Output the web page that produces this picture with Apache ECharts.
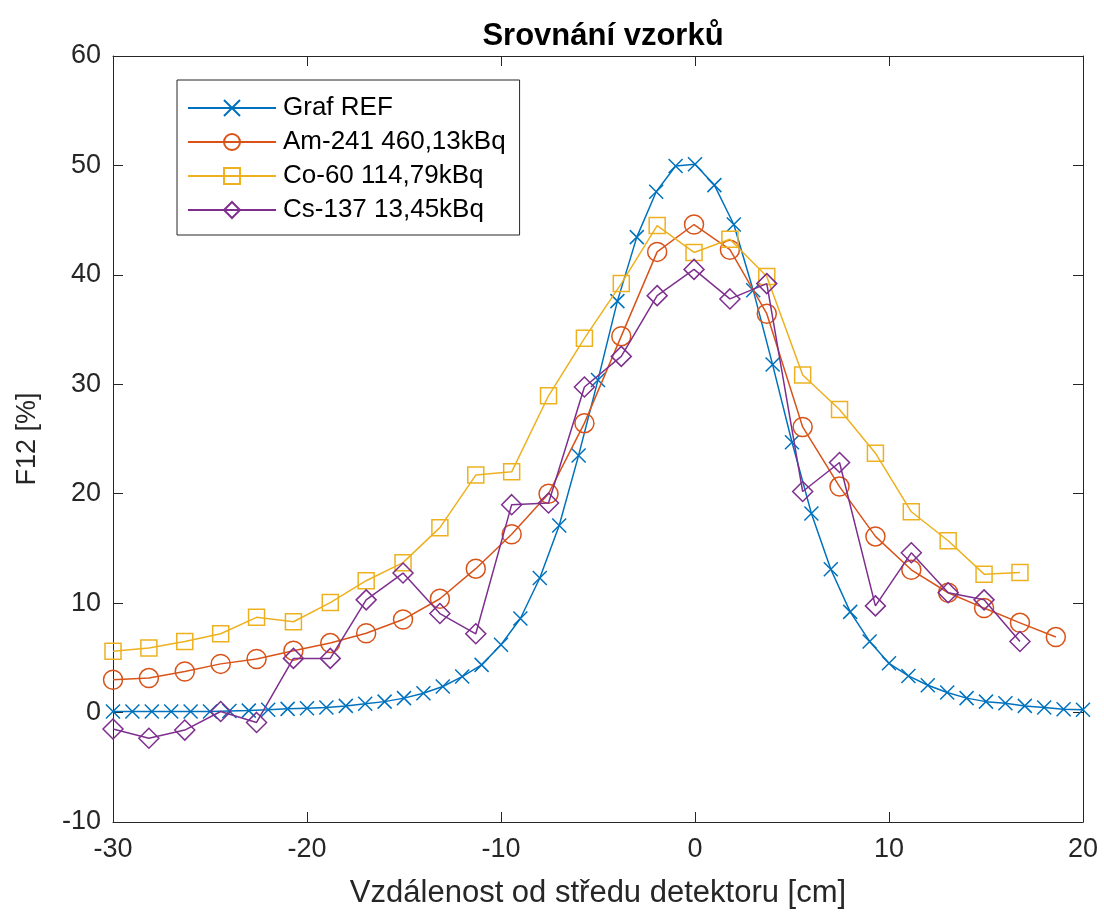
<!DOCTYPE html>
<html>
<head>
<meta charset="utf-8">
<title>Srovnání vzorků</title>
<script src="https://cdn.jsdelivr.net/npm/echarts@6/dist/echarts.min.js"></script>
<style>
  html, body { margin: 0; padding: 0; background: #fff; }
  #chart { width: 1104px; height: 915px; }
</style>
</head>
<body>
<div id="chart"></div>
<script>
// data
const seriesNames = ["Graf REF", "Am-241 460,13kBq", "Co-60 114,79kBq", "Cs-137 13,45kBq"];

const refX = [-30, -29, -28, -27, -26, -25, -24, -23, -22, -21, -20, -19, -18, -17, -16, -15, -14, -13, -12, -11,
  -10, -9, -8, -7, -6, -5, -4, -3, -2, -1, 0, 1, 2, 3, 4, 5, 6, 7, 8, 9,
  10, 11, 12, 13, 14, 15, 16, 17, 18, 19, 20];
const refY = [0.1, 0.1, 0.1, 0.1, 0.1, 0.1, 0.15, 0.18, 0.25, 0.34, 0.4, 0.46, 0.61, 0.8, 1.0, 1.32, 1.77, 2.38, 3.29, 4.36,
  6.2, 8.6, 12.3, 17.1, 23.5, 30.4, 37.6, 43.45, 47.6, 49.95, 50.1, 48.2, 44.6, 38.6, 31.8, 24.7, 18.2, 13.1, 9.2, 6.5,
  4.5, 3.35, 2.5, 1.83, 1.32, 1.0, 0.86, 0.61, 0.46, 0.31, 0.25];

// measured samples (about every 1.87 cm)
const sampleX = [-30, -28.15, -26.3, -24.45, -22.6, -20.7, -18.8, -16.95, -15.05, -13.15, -11.3, -9.45, -7.55,
  -5.7, -3.8, -1.95, -0.05, 1.8, 3.7, 5.55, 7.45, 9.3, 11.15, 13.05, 14.9, 16.75, 18.6];
const amY = [3.0, 3.15, 3.75, 4.45, 4.9, 5.65, 6.35, 7.25, 8.5, 10.4, 13.15, 16.3, 20.0,
  26.45, 34.4, 42.1, 44.6, 42.3, 36.45, 26.1, 20.65, 16.1, 13.05, 10.95, 9.55, 8.2, 6.9];
const coY = [5.6, 5.9, 6.5, 7.2, 8.7, 8.3, 10.05, 12.05, 13.7, 16.9, 21.7, 22.0, 28.95,
  34.2, 39.2, 44.5, 42.05, 43.25, 39.85, 30.85, 27.7, 23.7, 18.35, 15.7, 12.65, 12.8];
const csY = [-1.5, -2.35, -1.6, 0.1, -0.9, 4.95, 4.95, 10.3, 12.75, 9.05, 7.2, 19.0, 19.15,
  29.75, 32.55, 38.1, 40.5, 37.8, 39.2, 20.2, 22.85, 9.75, 14.6, 10.95, 10.3, 6.5];

const xTicks = [-30, -20, -10, 0, 10, 20];
const yTicks = [-10, 0, 10, 20, 30, 40, 50, 60];

const colors = ["#0072BD", "#D95319", "#EDB120", "#7E2F8E"];
const axisColor = "#262626";
const fontFamily = "Liberation Sans, Arial, sans-serif";

function pairs(xs, ys) {
  const out = [];
  for (let i = 0; i < ys.length; i++) {
    out.push([xs[i], ys[i]]);
  }
  return out;
}

function lineSeries(i, data, symbol, size) {
  return {
    name: seriesNames[i],
    type: "line",
    data: data,
    symbol: symbol,
    symbolSize: size,
    showAllSymbol: true,
    lineStyle: { color: colors[i], width: 1.5 },
    itemStyle: { color: "rgba(255,255,255,0)", borderColor: colors[i], borderWidth: 1.5 },
    emphasis: { disabled: true },
    animation: false,
    z: 2 + i
  };
}

const boxAxis = {
  axisLine: { show: true, onZero: false, lineStyle: { color: axisColor, width: 1 } },
  axisTick: { show: true, inside: true, length: 10, lineStyle: { color: axisColor } },
  splitLine: { show: false }
};

const chart = echarts.init(document.getElementById("chart"), null, { renderer: "canvas" });

const option = {
  backgroundColor: "#fff",
  title: {
    text: "Srovnání vzorků",
    left: 598,
    textAlign: "center",
    top: 16,
    textStyle: { fontFamily: fontFamily, fontSize: 31, fontWeight: "bold", color: "#000" }
  },
  grid: { left: 113, right: 21, top: 56, bottom: 93 },
  legend: {
    orient: "vertical",
    left: 177,
    top: 80,
    width: 346,
    padding: [15, 14, 12, 10],
    itemGap: 8,
    itemWidth: 88,
    itemHeight: 20,
    backgroundColor: "#fff",
    borderColor: axisColor,
    borderWidth: 1,
    borderRadius: 0,
    textStyle: { fontFamily: fontFamily, fontSize: 26, color: "#000", padding: [0, 0, 0, 2] },
    data: seriesNames
  },
  xAxis: [
    Object.assign({}, boxAxis, {
      type: "value",
      min: -30,
      max: 20,
      interval: 10,
      position: "bottom",
      name: "Vzdálenost od středu detektoru [cm]",
      nameLocation: "middle",
      nameGap: 56,
      nameTextStyle: { fontFamily: fontFamily, fontSize: 31, color: "#262626" },
      axisLabel: {
        margin: 14,
        fontFamily: fontFamily,
        fontSize: 27,
        color: "#262626",
        formatter: function (v) { return xTicks.indexOf(v) >= 0 ? String(v) : ""; }
      }
    }),
    Object.assign({}, boxAxis, {
      type: "value",
      min: -30,
      max: 20,
      interval: 10,
      position: "top",
      axisLabel: { show: false }
    })
  ],
  yAxis: [
    Object.assign({}, boxAxis, {
      type: "value",
      min: -10,
      max: 60,
      interval: 10,
      position: "left",
      name: "F12 [%]",
      nameLocation: "middle",
      nameGap: 72,
      nameRotate: 90,
      nameTextStyle: { fontFamily: fontFamily, fontSize: 27, color: "#262626" },
      axisLabel: {
        margin: 12,
        fontFamily: fontFamily,
        fontSize: 27,
        color: "#262626",
        formatter: function (v) { return yTicks.indexOf(v) >= 0 ? String(v) : ""; }
      }
    }),
    Object.assign({}, boxAxis, {
      type: "value",
      min: -10,
      max: 60,
      interval: 10,
      position: "right",
      axisLabel: { show: false }
    })
  ],
  series: [
    lineSeries(0, pairs(refX, refY), "path://M0,0L10,10M10,0L0,10", 14),
    lineSeries(1, pairs(sampleX, amY), "circle", 19),
    lineSeries(2, pairs(sampleX, coY), "rect", 16),
    lineSeries(3, pairs(sampleX, csY), "diamond", 20)
  ]
};

chart.setOption(option);
</script>
</body>
</html>
